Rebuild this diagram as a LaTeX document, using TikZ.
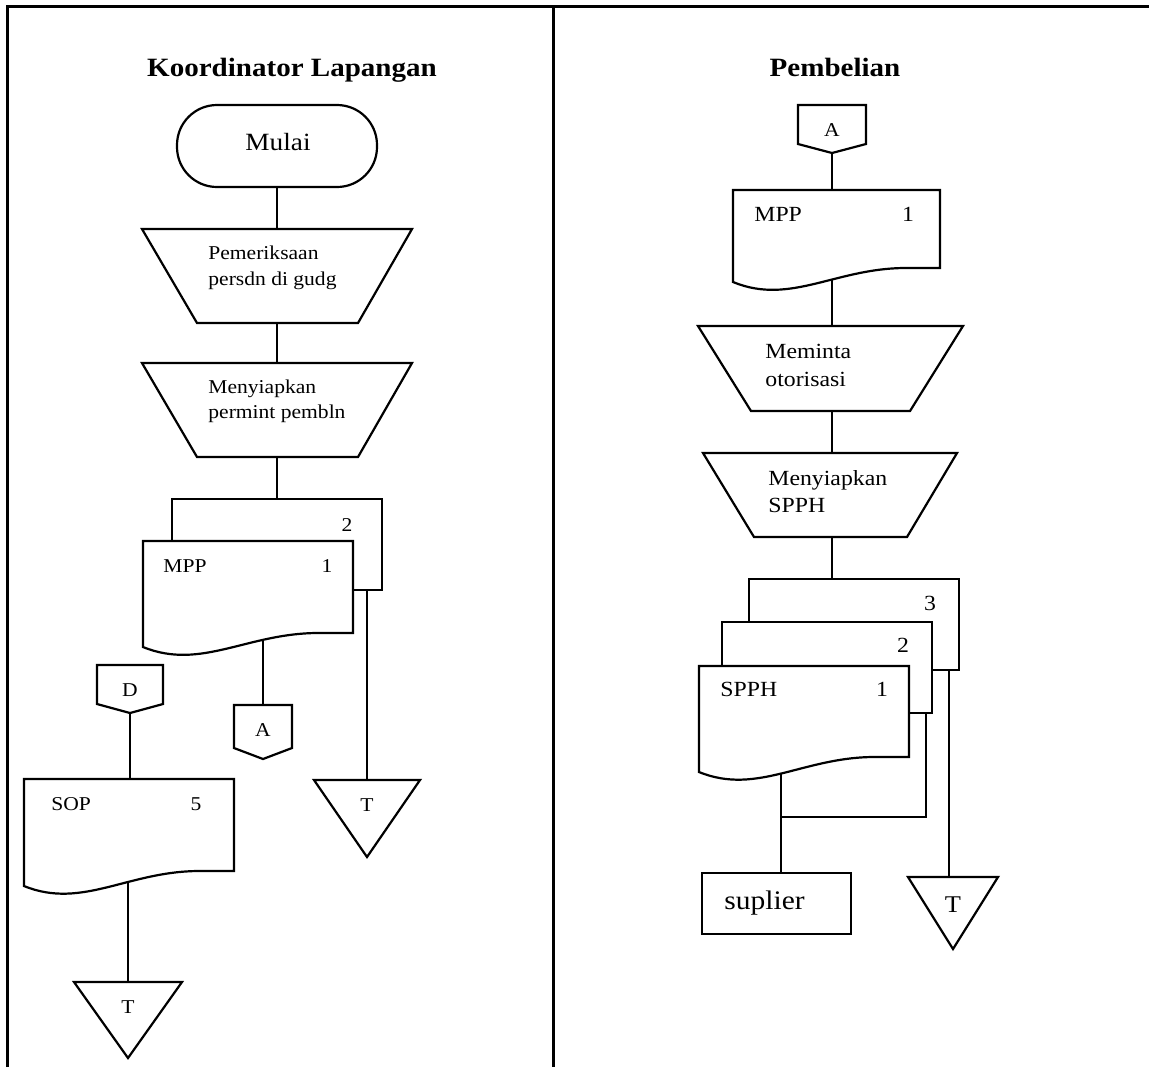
\documentclass[tikz,border=0pt]{standalone}
\usepackage{fontspec}
\setmainfont[FakeStretch=1.1]{Liberation Serif}
\usetikzlibrary{calc,fit}
\pgfdeclarelayer{background}
\pgfsetlayers{background,main}
\tikzset{
  frameline/.style={line width=1.5pt, draw=black},
  shp/.style={line width=1.1pt, draw=black, fill=white, line join=miter},
  ln/.style={line width=1.1pt, draw=black},
  hit/.style={inner sep=0pt, outer sep=0pt},
  hd/.style={font=\bfseries\fontsize{13.2}{16}\selectfont, inner sep=0pt, anchor=base},
  lw/.style={inner sep=0pt, anchor=base west},
  lc/.style={inner sep=0pt, anchor=base},
  fa/.style={font=\fontsize{9.8}{12}\selectfont},
  fb/.style={font=\fontsize{10.8}{13}\selectfont},
  fc/.style={font=\fontsize{12.4}{15}\selectfont},
  fd/.style={font=\fontsize{13.4}{15}\selectfont},
}
\newcommand{\docshp}[5]{% x1, top, x2, right bottom, left bottom
  \path[shp] (#1,#2) -- (#3,#2) -- (#3,#4) -- ({#3-0.15*(#3-#1)},#4)
    .. controls ({#1+0.5*(#3-#1)},{#4-1}) and ({#1+0.28*(#3-#1)},{#5+24}) .. (#1,#5) -- cycle;}
\newcommand{\offpg}[5]{% x1, top, x2, side bottom, apex y
  \path[shp] (#1,#2) -- (#3,#2) -- (#3,#4) -- ({(#1+#3)/2},#5) -- (#1,#4) -- cycle;}
\newcommand{\trishp}[4]{% x1, top, x2, apex y
  \path[shp] (#1,#2) -- (#3,#2) -- ({(#1+#3)/2},#4) -- cycle;}
\begin{document}
\begin{tikzpicture}[x=0.5pt,y=-0.5pt]
\useasboundingbox (0,0) rectangle (1149,1067);

% frame
\draw[frameline] (7,1067) -- (7,6) -- (1149,6);
\draw[frameline] (553,6) -- (553,1067);

% headings
\node[hd] (hL) at (292,76) {Koordinator Lapangan};
\node[hd] (hR) at (835,76) {Pembelian};

% ---------------- left column ----------------
\node[shp, rounded corners=20pt, minimum width=100pt, minimum height=41pt] (mulai) at (277,146) {};
\node[lc, fc] (mulaiT) at (278,150) {Mulai};

\path[shp] (142,229) -- (412,229) -- (358,323) -- (197,323) -- cycle;
\node[hit, fit={(142,229) (412,323)}] (trapA) {};
\node[lw, fa] (tA1) at (208,259) {Pemeriksaan};
\node[lw, fa] (tA2) at (208,285) {persdn di gudg};

\path[shp] (142,363) -- (412,363) -- (358,457) -- (197,457) -- cycle;
\node[hit, fit={(142,363) (412,457)}] (trapB) {};
\node[lw, fa] (tB1) at (208,393) {Menyiapkan};
\node[lw, fa] (tB2) at (208,418) {permint pembln};

\path[shp] (172,499) rectangle (382,590);
\node[hit, fit={(172,499) (382,590)}] (ldocb) {};
\node[lc, fa] (ldocbN) at (347,531) {2};
\docshp{143}{541}{353}{633}{647}
\node[hit, fit={(143,541) (353,647)}] (ldoca) {};
\node[lw, fa] (ldocaT) at (163,572) {MPP};
\node[lc, fa] (ldocaN) at (327,572) {1};

\offpg{234}{705}{292}{748}{759}
\node[hit, fit={(234,705) (292,759)}] (lA) {};
\node[lc, fa] (lAT) at (263,736) {A};

\offpg{97}{665}{163}{704}{713}
\node[hit, fit={(97,665) (163,713)}] (lD) {};
\node[lc, fa] (lDT) at (130,696) {D};

\docshp{24}{779}{234}{871}{886}
\node[hit, fit={(24,779) (234,886)}] (sop) {};
\node[lw, fa] (sopT) at (51,810) {SOP};
\node[lc, fa] (sopN) at (196,810) {5};

\trishp{314}{780}{420}{857}
\node[hit, fit={(314,780) (420,857)}] (tm) {};
\node[lc, fa] (tmT) at (367,811) {T};

\trishp{74}{982}{182}{1058}
\node[hit, fit={(74,982) (182,1058)}] (tb) {};
\node[lc, fa] (tbT) at (128,1013) {T};

% ---------------- right column ----------------
\offpg{798}{105}{866}{144}{153}
\node[hit, fit={(798,105) (866,153)}] (rA) {};
\node[lc, fa] (rAT) at (832,136) {A};

\docshp{733}{190}{940}{268}{282}
\node[hit, fit={(733,190) (940,282)}] (rmpp) {};
\node[lw, fb] (rmppT) at (754,221) {MPP};
\node[lc, fb] (rmppN) at (908,221) {1};

\path[shp] (698,326) -- (963,326) -- (910,411) -- (751,411) -- cycle;
\node[hit, fit={(698,326) (963,411)}] (trapC) {};
\node[lw, fb] (tC1) at (765,358) {Meminta};
\node[lw, fb] (tC2) at (765,386) {otorisasi};

\path[shp] (703,453) -- (957,453) -- (907,537) -- (754,537) -- cycle;
\node[hit, fit={(703,453) (957,537)}] (trapD) {};
\node[lw, fb] (tD1) at (768,485) {Menyiapkan};
\node[lw, fb] (tD2) at (768,512) {SPPH};

\path[shp] (749,579) rectangle (959,670);
\node[hit, fit={(749,579) (959,670)}] (rdocc) {};
\node[lc, fb] (rdoccN) at (930,610) {3};
\path[shp] (722,622) rectangle (932,713);
\node[hit, fit={(722,622) (932,713)}] (rdocb) {};
\node[lc, fb] (rdocbN) at (903,652) {2};
\docshp{699}{666}{909}{757}{772}
\node[hit, fit={(699,666) (909,772)}] (rdoca) {};
\node[lw, fb] (rdocaT) at (720,696) {SPPH};
\node[lc, fb] (rdocaN) at (882,696) {1};

\path[shp] (702,873) rectangle (851,934);
\node[hit, fit={(702,873) (851,934)}] (sup) {};
\node[lw, fd] (supT) at (724,909) {suplier};

\trishp{908}{877}{998}{949}
\node[hit, fit={(908,877) (998,949)}] (rt) {};
\node[lc, font=\fontsize{12}{14}\selectfont] (rtT) at (953,912) {T};

\coordinate (jn) at (781,817);

% ---------------- connectors ----------------
\begin{pgfonlayer}{background}
\draw[ln] (mulai.south) -- (trapA.north);
\draw[ln] (trapA.south) -- (trapB.north);
\draw[ln] (trapB.south) -- (ldocb.north);
\draw[ln] (ldoca.center -| lA.north) -- (lA.north);
\draw[ln] (tm.north |- ldocb.center) -- (tm.north);
\draw[ln] (lD.center) -- (lD.center |- sop.north);
\draw[ln] (tb.north |- sop.center) -- (tb.north);

\draw[ln] (rA.center) -- (rA.center |- rmpp.north);
\draw[ln] (rA.center |- rmpp.center) -- (rA.center |- trapC.north);
\draw[ln] (rA.center |- trapC.south) -- (rA.center |- trapD.north);
\draw[ln] (rA.center |- trapD.south) -- (rA.center |- rdocc.north);
\draw[ln] (jn |- rdoca.center) -- (jn |- sup.north);
\draw[ln] ($(rdocb.south east)+(-6,-20)$) |- (jn);
\draw[ln] ($(rt.north |- rdocc.south)+(-4,-20)$) -- ($(rt.north)+(-4,0)$);
\end{pgfonlayer}
\end{tikzpicture}
\end{document}
